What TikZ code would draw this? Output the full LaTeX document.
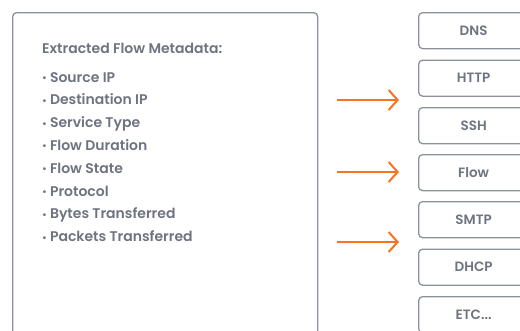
\documentclass[tikz,border=0pt]{standalone}
\usepackage{fontspec}
\setmainfont{Poppins}[BoldFont={Poppins SemiBold}]
\usetikzlibrary{arrows.meta}
\definecolor{txt}{HTML}{6E7380}
\definecolor{edge}{HTML}{8C919C}
\definecolor{org}{HTML}{F47421}
\newcommand{\bul}{\raisebox{0.5pt}{\fontsize{10}{10}\selectfont •}\hspace{3pt}}
\begin{document}
\begin{tikzpicture}[x=1pt,y=-1pt,
  panel/.style={draw=edge,line width=1.3pt,rounded corners=4pt,inner sep=0pt},
  proto/.style={draw=edge,line width=1.3pt,rounded corners=4pt,minimum width=110pt,minimum height=36pt,inner sep=0pt,anchor=north west,font=\bfseries\fontsize{13.5}{15}\selectfont,text=txt,text height=9.5pt,text depth=0pt},
  item/.style={anchor=base west,inner sep=0pt,font=\bfseries\fontsize{14}{16}\selectfont,text=txt},
  flow/.style={draw=org,line width=2pt,-{Straight Barb[length=9pt,width=20pt,line width=2pt]}}]
\useasboundingbox (0,0) rectangle (520,330);
\clip (0,0) rectangle (520,330);
\node[panel,minimum width=305pt,minimum height=340pt,anchor=north west] (meta) at (12,12) {};
\node[item] (title) at (42,53) {Extracted Flow Metadata:};
\node[item] (i1) at (42,82) {\bul Source IP};
\node[item] (i2) at (42,104.8) {\bul Destination IP};
\node[item] (i3) at (42,127.6) {\bul Service Type};
\node[item] (i4) at (42,150.4) {\bul Flow Duration};
\node[item] (i5) at (42,173.2) {\bul Flow State};
\node[item] (i6) at (42,196) {\bul Protocol};
\node[item] (i7) at (42,218.8) {\bul Bytes Transferred};
\node[item] (i8) at (42,241.6) {\bul Packets Transferred};
\node[proto] (dns) at (418,12) {DNS};
\node[proto] (http) at (418,59.5) {HTTP};
\node[proto] (ssh) at (418,107) {SSH};
\node[proto] (flw) at (418,154) {Flow};
\node[proto] (smtp) at (418,201) {SMTP};
\node[proto] (dhcp) at (418,248.5) {DHCP};
\node[proto] (etc) at (418,296) {ETC...};
\coordinate (a1s) at (337,100); \coordinate (a1e) at (399,100);
\coordinate (a2s) at (337,172); \coordinate (a2e) at (399,172);
\coordinate (a3s) at (337,242); \coordinate (a3e) at (399,242);
\draw[flow] (a1s) -- (a1e);
\draw[flow] (a2s) -- (a2e);
\draw[flow] (a3s) -- (a3e);
\end{tikzpicture}
\end{document}
